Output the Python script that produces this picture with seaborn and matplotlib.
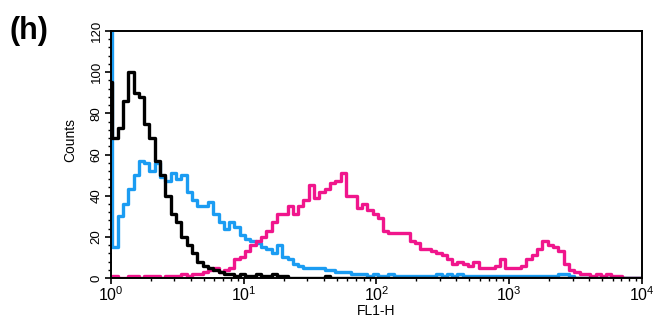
import numpy as np
import pandas as pd
import matplotlib
matplotlib.use("Agg")
import matplotlib.pyplot as plt
import matplotlib.ticker as mticker
import seaborn as sns

# channel counts, one value per 0.04-decade bin starting at 10^-0.03
black_counts = [95, 68, 73, 86, 100, 90, 88, 75, 68, 57,
                50, 40, 31, 27, 20, 16, 12, 8, 6, 5,
                4, 3, 2, 2, 1, 2, 1, 1, 2, 1,
                1, 2, 1, 1, 0, 0, 0, 0, 0, 0,
                0, 1, 0, 0, 0, 0, 0, 0, 0, 0,
                0, 0, 0, 0, 0, 0, 0, 0, 0, 0,
                0, 0, 0, 0, 0, 0, 0, 0, 0, 0,
                0, 0, 0, 0, 0, 0, 0, 0, 0, 0,
                0, 0, 0, 0, 0, 0, 0, 0, 0, 0,
                0, 0, 0, 0, 0, 0, 0, 0, 0, 0,
                0]
blue_counts = [400, 15, 30, 36, 43, 50, 57, 56, 52, 56,
               49, 47, 51, 48, 50, 42, 38, 35, 35, 37,
               31, 27, 24, 27, 25, 21, 19, 18, 17, 15,
               14, 12, 16, 10, 9, 7, 6, 5, 5, 5,
               5, 4, 4, 3, 3, 3, 2, 2, 2, 1,
               2, 1, 1, 2, 1, 1, 1, 1, 1, 1,
               1, 1, 2, 1, 2, 1, 2, 1, 1, 1,
               1, 1, 1, 1, 1, 1, 1, 1, 1, 1,
               1, 1, 1, 1, 1, 2, 2, 1, 0, 0,
               0, 0, 0, 0, 0, 0, 0, 0, 0, 0,
               0]
pink_counts = [0, 1, 0, 0, 1, 1, 0, 1, 1, 1,
               0, 1, 1, 1, 2, 1, 2, 2, 3, 4,
               5, 3, 4, 5, 9, 10, 13, 16, 18, 20,
               23, 27, 31, 31, 35, 31, 35, 38, 45, 39,
               42, 43, 46, 47, 51, 40, 40, 34, 36, 33,
               31, 29, 23, 22, 22, 22, 22, 18, 17, 14,
               14, 13, 12, 11, 9, 7, 8, 7, 6, 8,
               5, 5, 5, 6, 9, 5, 5, 5, 6, 9,
               11, 14, 18, 16, 15, 13, 7, 4, 3, 2,
               2, 1, 2, 1, 2, 1, 1, 0, 0, 0,
               0]

log_start = -0.03
log_stop = 4.01
n_bins = len(black_counts)
centers = 10 ** np.linspace(log_start, log_stop, n_bins + 1)[:-1] * 10 ** ((log_stop - log_start) / n_bins / 2)

colors = {"blue": "#1b9cf2", "pink": "#f0168c", "black": "#000000"}
series = {"blue": blue_counts, "pink": pink_counts, "black": black_counts}

sns.set_style("ticks")
plt.rcParams["font.family"] = ["Liberation Sans", "DejaVu Sans"]
plt.rcParams["mathtext.fontset"] = "custom"
plt.rcParams["mathtext.rm"] = "Liberation Sans"
plt.rcParams["text.color"] = "black"
plt.rcParams["axes.labelcolor"] = "black"
plt.rcParams["xtick.color"] = "black"
plt.rcParams["ytick.color"] = "black"

fig = plt.figure(figsize=(6.63, 3.25), dpi=100)
ax = fig.add_axes([0.1674, 0.1446, 0.8009, 0.76])

for name, counts in series.items():
    df = pd.DataFrame({"FL1-H": centers, "Counts": counts})
    sns.histplot(data=df, x="FL1-H", weights="Counts", bins=n_bins,
                 binrange=(log_start, log_stop), log_scale=True,
                 element="step", fill=False, color=colors[name],
                 linewidth=2.4, ax=ax)

ax.set_xlim(1, 1e4)
ax.set_ylim(0, 120)
ax.set_yticks(range(0, 121, 20))
ax.yaxis.set_minor_locator(mticker.MultipleLocator(4))
ax.xaxis.set_major_locator(mticker.LogLocator(base=10, numticks=10))
ax.xaxis.set_minor_locator(mticker.LogLocator(base=10, subs=np.arange(2, 10), numticks=20))
ax.xaxis.set_minor_formatter(mticker.NullFormatter())

for lbl in ax.get_yticklabels():
    lbl.set_rotation(90)
    lbl.set_va("center")

ax.tick_params(axis="both", which="major", direction="out", length=4, width=1.2,
               labelsize=9.5, pad=2)
ax.tick_params(axis="both", which="minor", direction="out", length=2.5, width=1.0)
ax.tick_params(axis="x", labelsize=11.5, pad=1)
for sp in ax.spines.values():
    sp.set_visible(True)
    sp.set_linewidth(1.4)
    sp.set_color("black")

ax.set_xlabel("FL1-H", fontsize=10, labelpad=0)
ax.set_ylabel("Counts", fontsize=10)
ax.yaxis.set_label_coords(-0.063, 0.56)

fig.text(0.014, 0.95, "(h)", fontsize=22, fontweight="bold", va="top", ha="left")

fig.savefig("out.png", dpi=100)
